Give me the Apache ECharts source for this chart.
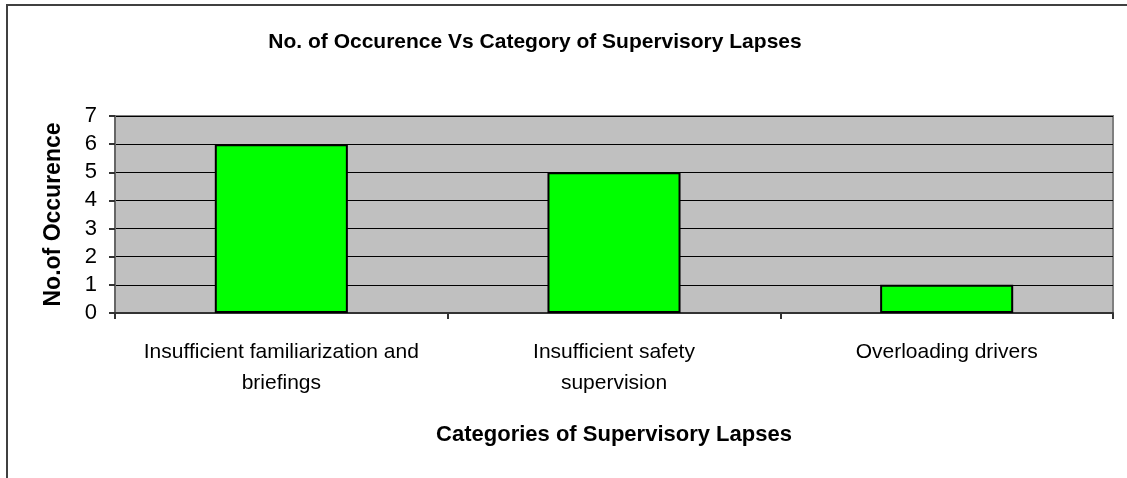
<!DOCTYPE html>
<html>
<head>
<meta charset="utf-8">
<script src="https://cdn.jsdelivr.net/npm/echarts@6/dist/echarts.min.js"></script>
<style>
  html, body { margin: 0; padding: 0; background: #fff; }
  #chart { width: 1127px; height: 478px; }
</style>
</head>
<body>
<div id="chart"></div>
<script>
// data
var categories = ['Insufficient familiarization and\nbriefings', 'Insufficient safety\nsupervision', 'Overloading drivers'];
var occurrences = [6, 5, 1];
var yTicks = [0, 1, 2, 3, 4, 5, 6, 7];

var chart = echarts.init(document.getElementById('chart'));

var font = 'Arial, "Liberation Sans", sans-serif';

chart.setOption({
  animation: false,
  title: {
    text: 'No. of Occurence Vs Category of Supervisory Lapses',
    left: 530,
    textAlign: 'center',
    top: 27,
    textStyle: { fontFamily: font, fontSize: 21, fontWeight: 'bold', color: '#000' }
  },
  graphic: [{
    type: 'rect',
    shape: { x: 7, y: 5, width: 1130, height: 480 },
    style: { fill: 'none', stroke: '#404040', lineWidth: 2 },
    silent: true
  }],
  grid: {
    left: 115, right: 14, top: 116, bottom: 165,
    show: true, backgroundColor: '#c0c0c0', borderColor: '#808080', borderWidth: 2
  },
  xAxis: {
    type: 'category',
    data: categories,
    name: 'Categories of Supervisory Lapses',
    nameLocation: 'middle',
    nameGap: 111,
    nameTextStyle: { fontFamily: font, fontSize: 22, fontWeight: 'bold', color: '#000' },
    axisLine: { lineStyle: { color: '#333', width: 2 } },
    axisTick: { show: true, interval: 0, alignWithLabel: false, length: 6, lineStyle: { color: '#333', width: 2 } },
    axisLabel: { interval: 0, hideOverlap: false, fontFamily: font, fontSize: 21, color: '#000', margin: 24, lineHeight: 31 }
  },
  yAxis: {
    type: 'value',
    min: yTicks[0],
    max: yTicks[yTicks.length - 1],
    interval: 1,
    name: 'No.of Occurence',
    nameLocation: 'middle',
    nameGap: 50,
    nameTextStyle: { fontFamily: font, fontSize: 23, fontWeight: 'bold', color: '#000' },
    axisLine: { show: true, lineStyle: { color: '#666', width: 2 } },
    axisTick: { show: true, length: 6, lineStyle: { color: '#333', width: 2 } },
    axisLabel: { fontFamily: font, fontSize: 22, color: '#000', margin: 18 },
    splitLine: { show: true, lineStyle: { color: '#000', width: 1 } }
  },
  series: [{
    type: 'bar',
    data: occurrences,
    barWidth: '40%',
    itemStyle: { color: '#00ff00', borderColor: '#000', borderWidth: 2 }
  }]
});
</script>
</body>
</html>
